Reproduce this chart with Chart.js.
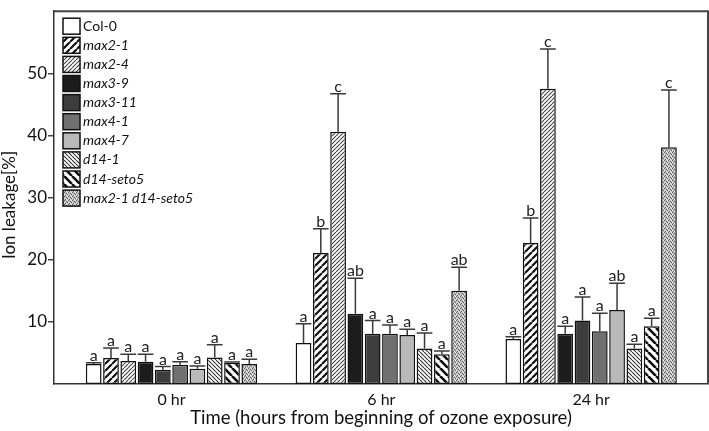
<!DOCTYPE html>
<html lang="en">
<head>
<meta charset="UTF-8" />
<title>Ion leakage after ozone exposure</title>
<style>
  body { margin: 0; background: #fff; }
  #wrap { width: 709px; height: 431px; position: relative; }
</style>
</head>
<body>
<div id="wrap"><canvas id="chart"></canvas></div>
<script src="https://cdn.jsdelivr.net/npm/chart.js"></script>
<script>
const timeLabels = ['0 hr', '6 hr', '24 hr'];
const genotypes = ['Col-0', 'max2-1', 'max2-4', 'max3-9', 'max3-11', 'max4-1', 'max4-7', 'd14-1', 'd14-seto5', 'max2-1 d14-seto5'];
const yTicks = [10, 20, 30, 40, 50];

// mean ion leakage [%], one value per genotype
const mean0h = [3.2, 4.2, 3.7, 3.6, 2.3, 3.1, 2.45, 4.25, 3.4, 3.2];
const mean6h = [6.6, 21.1, 40.6, 11.3, 8.1, 8.1, 7.9, 5.7, 4.8, 15.0];
const mean24h = [7.25, 22.7, 47.5, 8.1, 10.2, 8.5, 11.9, 5.7, 9.3, 38.1];

// upper error bars
const err0h = [0.2, 1.6, 1.1, 1.2, 0.5, 0.5, 0.45, 2.05, 0.15, 0.8];
const err6h = [3.1, 3.9, 6.1, 5.7, 2.1, 1.4, 0.9, 2.5, 0.5, 3.8];
const err24h = [0.35, 4.0, 6.4, 1.2, 3.8, 2.9, 4.3, 0.7, 1.3, 9.2];

// significance letters
const letters0h = ['a', 'a', 'a', 'a', 'a', 'a', 'a', 'a', 'a', 'a'];
const letters6h = ['a', 'b', 'c', 'ab', 'a', 'a', 'a', 'a', 'a', 'ab'];
const letters24h = ['a', 'b', 'c', 'a', 'a', 'a', 'ab', 'a', 'a', 'c'];

const means = [mean0h, mean6h, mean24h];
const errs = [err0h, err6h, err24h];
const letters = [letters0h, letters6h, letters24h];

const FONT = 'Lato, "Open Sans", sans-serif';
const canvas = document.getElementById('chart');
const mainCtx = canvas.getContext('2d');

// hatch tiles
function stripes(size, width, dir, fg) {
  const c = document.createElement('canvas');
  c.width = c.height = size;
  const g = c.getContext('2d');
  g.fillStyle = '#fff';
  g.fillRect(0, 0, size, size);
  g.strokeStyle = fg;
  g.lineWidth = width;
  g.beginPath();
  for (const k of [-size, 0, size]) {
    if (dir === '/') { g.moveTo(k, size); g.lineTo(k + size, 0); }
    else { g.moveTo(k, 0); g.lineTo(k + size, size); }
  }
  g.stroke();
  return mainCtx.createPattern(c, 'repeat');
}

function speckle() {
  const c = document.createElement('canvas');
  c.width = c.height = 4;
  const g = c.getContext('2d');
  g.fillStyle = '#bdbdbd';
  g.fillRect(0, 0, 4, 4);
  g.fillStyle = '#666';
  [[0, 0], [2, 1], [1, 3], [3, 2]].forEach(p => g.fillRect(p[0], p[1], 1, 1));
  g.fillStyle = '#ececec';
  [[2, 3], [0, 2], [3, 0]].forEach(p => g.fillRect(p[0], p[1], 1, 1));
  return mainCtx.createPattern(c, 'repeat');
}

const fills = [
  '#ffffff',
  stripes(7, 2.2, '/', '#111'),
  stripes(4, 1.1, '/', '#444'),
  '#1c1c1c',
  '#3d3d3d',
  '#707070',
  '#b9b9b9',
  stripes(4, 1.1, '\\', '#333'),
  stripes(8, 2.6, '\\', '#111'),
  speckle()
];

const datasets = genotypes.map((name, i) => ({
  label: name,
  data: means.map((m, j) => ({ x: j, y: m[i] })),
  backgroundColor: fills[i],
  borderColor: '#111',
  borderWidth: 1.5,
  borderSkipped: false,
  categoryPercentage: 0.824,
  barPercentage: 0.91
}));

const extras = {
  id: 'extras',
  afterDatasetsDraw(chart) {
    const { ctx, chartArea: a, scales: { y } } = chart;
    ctx.save();

    // error bars and letters
    chart.data.datasets.forEach((ds, i) => {
      chart.getDatasetMeta(i).data.forEach((bar, j) => {
        const top = y.getPixelForValue(means[j][i] + errs[j][i]);
        const half = bar.width / 2;
        ctx.strokeStyle = '#3a3a3a';
        ctx.lineWidth = 1.5;
        ctx.beginPath();
        ctx.moveTo(bar.x, bar.y);
        ctx.lineTo(bar.x, top);
        ctx.moveTo(bar.x - half, top);
        ctx.lineTo(bar.x + half, top);
        ctx.stroke();
        ctx.fillStyle = '#222';
        ctx.font = '16px ' + FONT;
        ctx.textAlign = 'center';
        ctx.textBaseline = 'alphabetic';
        ctx.fillText(letters[j][i], bar.x, top - 2);
      });
    });

    // frame top / right
    ctx.strokeStyle = '#444';
    ctx.lineWidth = 2;
    ctx.beginPath();
    ctx.moveTo(a.left, a.top);
    ctx.lineTo(a.right, a.top);
    ctx.lineTo(a.right, a.bottom);
    ctx.stroke();

    // legend
    ctx.textAlign = 'left';
    ctx.textBaseline = 'middle';
    chart.data.datasets.forEach((ds, i) => {
      const cy = a.top + 15 + i * 19.1;
      ctx.fillStyle = ds.backgroundColor;
      ctx.fillRect(63, cy - 8, 17, 16);
      ctx.strokeStyle = '#111';
      ctx.lineWidth = 1.5;
      ctx.strokeRect(63, cy - 8, 17, 16);
      ctx.fillStyle = '#111';
      ctx.font = (i === 0 ? '' : 'italic ') + '14px ' + FONT;
      ctx.fillText(ds.label, 83, cy);
    });

    // y title
    ctx.translate(10, 205);
    ctx.rotate(-Math.PI / 2);
    ctx.textAlign = 'center';
    ctx.fillStyle = '#111';
    ctx.font = '17px ' + FONT;
    ctx.fillText('Ion leakage[%]', 0, 0);
    ctx.restore();
  }
};

new Chart(canvas, {
  type: 'bar',
  data: { datasets },
  options: {
    responsive: true,
    maintainAspectRatio: false,
    animation: false,
    layout: { padding: { top: 1, right: 1, left: 0, bottom: 0 } },
    plugins: { legend: { display: false }, tooltip: { enabled: false } },
    scales: {
      x: {
        type: 'linear',
        offset: false,
        min: -0.56,
        max: 2.557,
        afterBuildTicks: s => { s.ticks = timeLabels.map((t, i) => ({ value: i })); },
        afterFit: s => { s.height = 47; },
        grid: { display: false, drawTicks: false, offset: false },
        border: { display: true, color: '#333', width: 1.5 },
        ticks: {
          padding: 6,
          color: '#111',
          font: { family: FONT, size: 16 },
          callback: v => timeLabels[v]
        },
        title: {
          display: true,
          text: 'Time (hours from beginning of ozone exposure)',
          color: '#111',
          font: { family: FONT, size: 18.5 },
          padding: { top: 0, bottom: 2 }
        }
      },
      y: {
        min: 0,
        max: 60,
        afterBuildTicks: s => { s.ticks = yTicks.map(v => ({ value: v })); },
        afterFit: s => { s.width = 54; },
        grid: { drawOnChartArea: false, tickLength: 6, color: '#444', lineWidth: 1.5 },
        border: { display: true, color: '#333', width: 1.5 },
        ticks: { padding: 1, color: '#111', font: { family: FONT, size: 17 } }
      }
    }
  },
  plugins: [extras]
});
</script>
</body>
</html>
